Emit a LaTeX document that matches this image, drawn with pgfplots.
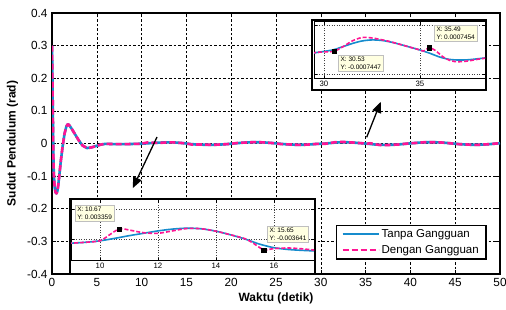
\documentclass[border=0pt]{standalone}
\usepackage{fontspec}
\setmainfont{Liberation Sans}
\usepackage{pgfplots}
\pgfplotsset{compat=1.18}
\usepackage{pgfplotstable}
\usetikzlibrary{arrows.meta}
\definecolor{tblue}{RGB}{22,140,205}
\definecolor{dpink}{RGB}{255,20,147}
\definecolor{tipfill}{RGB}{255,255,225}

\pgfplotstableread{
t v
0 0.300
0.05 0.200
0.10 0.080
0.15 -0.030
0.20 -0.090
0.30 -0.135
0.40 -0.150
0.50 -0.153
0.60 -0.146
0.70 -0.127
0.80 -0.102
0.90 -0.076
1.00 -0.050
1.20 -0.006
1.40 0.030
1.60 0.052
1.75 0.059
1.90 0.057
2.20 0.045
2.60 0.027
3.00 0.009
3.40 -0.006
3.90 -0.014
4.40 -0.012
5.00 -0.007
5.50 -0.003
6.00 -0.001
6.5 -0.0015
7 -0.0019
7.5 -0.0021
8 -0.0021
8.5 -0.0018
9 -0.0014
9.5 -0.0011
10 -0.0006
10.5 0.0002
11 0.0011
11.5 0.0019
12 0.0027
12.5 0.0033
13 0.0036
13.5 0.0034
14 0.0026
14.5 0.0014
15 0.0000
15.5 -0.0017
16 -0.0029
16.5 -0.0035
17 -0.0038
17.5 -0.0040
18 -0.0040
18.5 -0.0036
19 -0.0029
19.5 -0.0019
20 -0.0006
20.5 0.0006
21 0.0018
21.5 0.0029
22 0.0036
22.5 0.0040
23 0.0039
23.5 0.0035
24 0.0027
24.5 0.0016
25 0.0004
25.5 -0.0009
26 -0.0021
26.5 -0.0031
27 -0.0037
27.5 -0.0040
28 -0.0039
28.5 -0.0034
29 -0.0025
29.5 -0.0014
30 -0.0008
30.5 -0.0001
31 0.0012
31.5 0.0025
32 0.0035
32.5 0.0039
33 0.0037
33.5 0.0030
34 0.0020
34.5 0.0009
35 -0.0002
35.5 -0.0015
36 -0.0030
36.5 -0.0040
37 -0.0043
37.5 -0.0042
38 -0.0038
38.5 -0.0033
39 -0.0021
39.5 -0.0009
40 0.0004
40.5 0.0016
41 0.0027
41.5 0.0035
42 0.0039
42.5 0.0040
43 0.0036
43.5 0.0029
44 0.0019
44.5 0.0006
45 -0.0006
45.5 -0.0019
46 -0.0029
46.5 -0.0036
47 -0.0040
47.5 -0.0039
48 -0.0035
48.5 -0.0027
49 -0.0016
49.5 -0.0004
50 0.0009
}\tanpa

\pgfplotstableread{
t v
0 0.300
0.05 0.200
0.10 0.080
0.15 -0.030
0.20 -0.090
0.30 -0.135
0.40 -0.150
0.50 -0.153
0.60 -0.146
0.70 -0.127
0.80 -0.102
0.90 -0.076
1.00 -0.050
1.20 -0.006
1.40 0.030
1.60 0.052
1.75 0.059
1.90 0.057
2.20 0.045
2.60 0.027
3.00 0.009
3.40 -0.006
3.90 -0.014
4.40 -0.012
5.00 -0.007
5.50 -0.003
6.00 -0.001
6.5 -0.0015
7 -0.0019
7.5 -0.0021
8 -0.0021
8.5 -0.0018
9 -0.0014
9.5 -0.0011
10 -0.0006
10.3 0.0012
10.67 0.0034
11 0.0030
11.5 0.0021
12 0.0019
12.5 0.0027
13 0.0035
13.5 0.0034
14 0.0026
14.5 0.0014
15 0.0001
15.3 -0.0015
15.65 -0.0036
16 -0.0032
16.5 -0.0030
17 -0.0033
17.5 -0.0038
18 -0.0040
18.5 -0.0034
19 -0.0027
19.5 -0.0020
20 -0.0008
20.5 0.0010
21 0.0024
21.5 0.0028
22 0.0033
22.5 0.0041
23 0.0042
23.5 0.0035
24 0.0025
24.5 0.0016
25 0.0001
25.5 -0.0016
26 -0.0025
26.5 -0.0028
27 -0.0035
27.5 -0.0042
28 -0.0041
28.5 -0.0034
29 -0.0024
29.5 -0.0013
30 -0.0010
30.53 -0.0007
31 0.0012
31.5 0.0036
32 0.0049
32.5 0.0047
33 0.0040
33.5 0.0031
34 0.0020
34.5 0.0009
35 -0.0002
35.2 -0.0006
35.49 0.0007
35.8 -0.0004
36.2 -0.0030
36.6 -0.0046
37 -0.0050
37.5 -0.0047
38 -0.0040
38.5 -0.0034
39 -0.0022
39.5 -0.0006
40 0.0008
40.5 0.0014
41 0.0025
41.5 0.0038
42 0.0041
42.5 0.0038
43 0.0037
43.5 0.0030
44 0.0017
44.5 0.0004
45 -0.0009
45.5 -0.0022
46 -0.0027
46.5 -0.0033
47 -0.0042
47.5 -0.0041
48 -0.0034
48.5 -0.0026
49 -0.0017
49.5 -0.0002
50 0.0010
}\dengan

\begin{document}
\begin{tikzpicture}[x=1pt,y=1pt]
\useasboundingbox (0,0) rectangle (506,310);
\begin{axis}[
  at={(52pt,36pt)}, anchor=south west, scale only axis,
  width=448pt, height=261pt,
  xmin=0, xmax=50, ymin=-0.4, ymax=0.4,
  xtick={0,5,10,15,20,25,30,35,40,45,50},
  ytick={-0.4,-0.3,-0.2,-0.1,0,0.1,0.2,0.3,0.4},
  /pgf/number format/assume math mode=true,
  tick label style={font=\fontsize{11.8}{13}\selectfont},
  xticklabel style={yshift=-1pt},
  yticklabel style={xshift=-1pt},
  grid=major,
  grid style={black, line width=0.5pt, dash pattern=on 2.5pt off 2pt},
  axis line style={line width=1.2pt},
  major tick length=4pt,
  tick style={black, line width=0.6pt},
  xlabel={Waktu (detik)},
  ylabel={Sudut Pendulum (rad)},
  xlabel style={at={(axis description cs:0.5,-0.092)}, anchor=center, font=\bfseries\fontsize{12}{14}\selectfont},
  ylabel style={at={(axis description cs:-0.088,0.5)}, anchor=center, font=\bfseries\fontsize{12}{14}\selectfont},
  legend style={at={(axis description cs:0.970,0.054)}, anchor=south east, draw=black, line width=1.5pt,
    font=\fontsize{11.5}{13}\selectfont, cells={anchor=west}, row sep=2.5pt, inner xsep=5pt, inner ysep=2pt},
  legend image code/.code={\draw[#1, line width=2.2pt] (0pt,0pt) -- (36pt,0pt);},
]
\addplot[tblue, line width=2.6pt, line join=round] table[x=t,y=v]{\tanpa};
\addlegendentry{Tanpa Gangguan}
\addplot[dpink, line width=2.6pt, line join=round, dash pattern=on 6pt off 3pt] table[x=t,y=v]{\dengan};
\addlegendentry{Dengan Gangguan}
\draw[line width=1.3pt, -{Triangle[length=11pt,width=9pt]}] (axis cs:11.72,0.0199) -- (axis cs:9.01,-0.137);
\draw[line width=1.3pt, -{Triangle[length=11pt,width=9pt]}] (axis cs:35.12,0.019) -- (axis cs:36.69,0.128);
\end{axis}

% inset 1 (top right)
\draw[line width=2.4pt, fill=white] (312,220) rectangle (486,290);
\begin{axis}[
  at={(314pt,231pt)}, anchor=south west, scale only axis,
  width=171pt, height=57pt,
  xmin=29.48, xmax=38.39, ymin=-0.01204, ymax=0.01122,
  xtick={30,35}, ytick={-0.01,0.01}, yticklabels={},
  scaled y ticks=false,
  /pgf/number format/assume math mode=true,
  tick label style={font=\fontsize{7.8}{8}\selectfont},
  xticklabel style={yshift=1.5pt},
  grid=major,
  grid style={black!75, line width=0.4pt, dash pattern=on 1pt off 1.5pt},
  axis line style={line width=1pt},
  major tick length=3pt,
  tick style={black, line width=0.5pt},
]
\addplot[tblue, line width=1.6pt, smooth] table[x=t,y=v]{\tanpa};
\addplot[dpink, line width=1.6pt, smooth, dash pattern=on 4pt off 2pt] table[x=t,y=v]{\dengan};
\addplot[only marks, mark=square*, mark size=2.2pt, black] coordinates {(30.53,-0.0007447) (35.49,0.0007454)};
\node[fill=tipfill, draw=black!25, anchor=north west, align=left, inner sep=2pt,
  font=\fontsize{6.5}{7.5}\selectfont] at (axis cs:30.75,-0.00224) {X: 30.53\\Y: -0.0007447};
\node[fill=tipfill, draw=black!25, anchor=north west, align=left, inner sep=2pt,
  font=\fontsize{6.5}{7.5}\selectfont] at (axis cs:35.75,0.0100) {X: 35.49\\Y: 0.0007454};
\end{axis}

% inset 2 (bottom left)
\draw[line width=2.4pt, fill=white] (70,36) rectangle (315,111);
\begin{axis}[
  at={(71pt,49pt)}, anchor=south west, scale only axis,
  width=243pt, height=61pt,
  xmin=9.0, xmax=17.38, ymin=-0.00733, ymax=0.0130,
  xtick={10,12,14,16}, ytick={0,0.01}, yticklabels={},
  scaled y ticks=false,
  /pgf/number format/assume math mode=true,
  tick label style={font=\fontsize{7.8}{8}\selectfont},
  xticklabel style={yshift=1.5pt},
  grid=major,
  grid style={black!75, line width=0.4pt, dash pattern=on 1pt off 1.5pt},
  axis line style={line width=1pt},
  major tick length=3pt,
  tick style={black, line width=0.5pt},
]
\addplot[tblue, line width=1.6pt, smooth] table[x=t,y=v]{\tanpa};
\addplot[dpink, line width=1.6pt, smooth, dash pattern=on 4pt off 2pt] table[x=t,y=v]{\dengan};
\addplot[only marks, mark=square*, mark size=2.2pt, black] coordinates {(10.67,0.003359) (15.65,-0.003641)};
\node[fill=tipfill, draw=black!25, anchor=north west, align=left, inner sep=2pt,
  font=\fontsize{6.5}{7.5}\selectfont] at (axis cs:9.14,0.01133) {X: 10.67\\Y: 0.003359};
\node[fill=tipfill, draw=black!25, anchor=north west, align=left, inner sep=2pt,
  font=\fontsize{6.5}{7.5}\selectfont] at (axis cs:15.77,0.00433) {X: 15.65\\Y: -0.003641};
\end{axis}
\end{tikzpicture}
\end{document}
